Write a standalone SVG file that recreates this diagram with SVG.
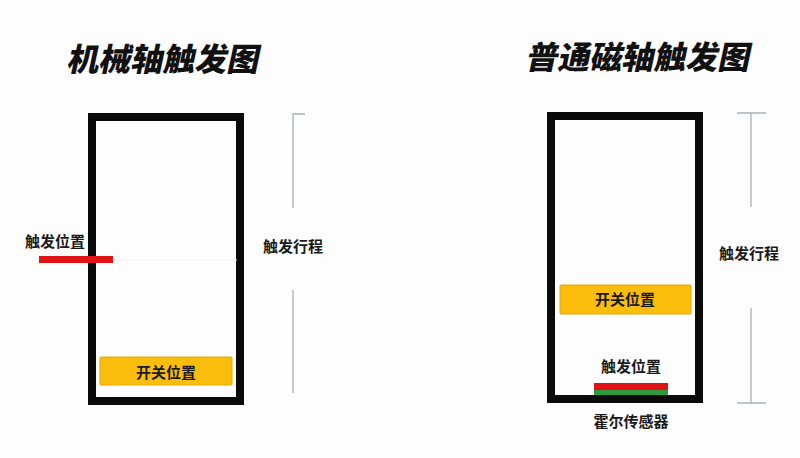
<svg xmlns="http://www.w3.org/2000/svg" width="800" height="458" viewBox="0 0 800 458">
<style>
.title{font-family:"Noto Sans CJK SC","Noto Sans",sans-serif;font-size:32px;font-weight:900;fill:#111;}
.lbl{font-family:"Noto Sans CJK SC","Noto Sans",sans-serif;font-size:15px;font-weight:bold;fill:#1a1a1a;}
.frame{fill:none;stroke:#0a0a0a;stroke-width:8;}
.sw{fill:#fbbd0c;stroke:#e0a800;stroke-width:1;}
.dim{stroke:#a9aeb8;stroke-width:1.3;fill:none;}
</style>
<rect width="800" height="458" fill="#fdfdfd"/>
<g id="title-left"><text class="title" x="0" y="0" transform="translate(66,71) skewX(-12)">机械轴触发图</text></g>
<g id="title-right"><text class="title" x="0" y="0" transform="translate(525,69) skewX(-12)">普通磁轴触发图</text></g>
<g id="switch-left">
<rect class="frame" x="92" y="117" width="148" height="284"/>
<line x1="113" y1="260" x2="237" y2="260" stroke="#eeeeee" stroke-width="1"/>
</g>
<g id="keycap-left"><rect class="sw" x="100" y="357" width="132" height="28" rx="1"/><text class="lbl" x="166" y="378" text-anchor="middle">开关位置</text></g>
<g id="trigger-left"><rect x="39" y="256" width="74" height="7" fill="#e01414"/><text class="lbl" x="55" y="247" text-anchor="middle">触发位置</text></g>
<g id="switch-right"><rect class="frame" x="551" y="116" width="148" height="283"/></g>
<g id="keycap-right"><rect class="sw" x="560" y="285" width="131" height="29" rx="1"/><text class="lbl" x="625" y="305" text-anchor="middle">开关位置</text></g>
<g id="trigger-right"><rect x="594" y="383" width="74" height="7" fill="#e01414"/><text class="lbl" x="631" y="372" text-anchor="middle">触发位置</text></g>
<g id="hall-sensor"><rect x="594" y="390" width="74" height="5" fill="#2e9a3e"/><text class="lbl" x="631" y="427" text-anchor="middle">霍尔传感器</text></g>
<g id="connectors">
<path class="dim" d="M305 114 H293 V208 M293 290 V393"/>
<path class="dim" d="M737 113 H766 M751 113 V207 M751 308 V403 M737 403 H766"/>
</g>
<g id="travel-left"><text class="lbl" x="293" y="252" text-anchor="middle">触发行程</text></g>
<g id="travel-right"><text class="lbl" x="749" y="259" text-anchor="middle">触发行程</text></g>
</svg>
